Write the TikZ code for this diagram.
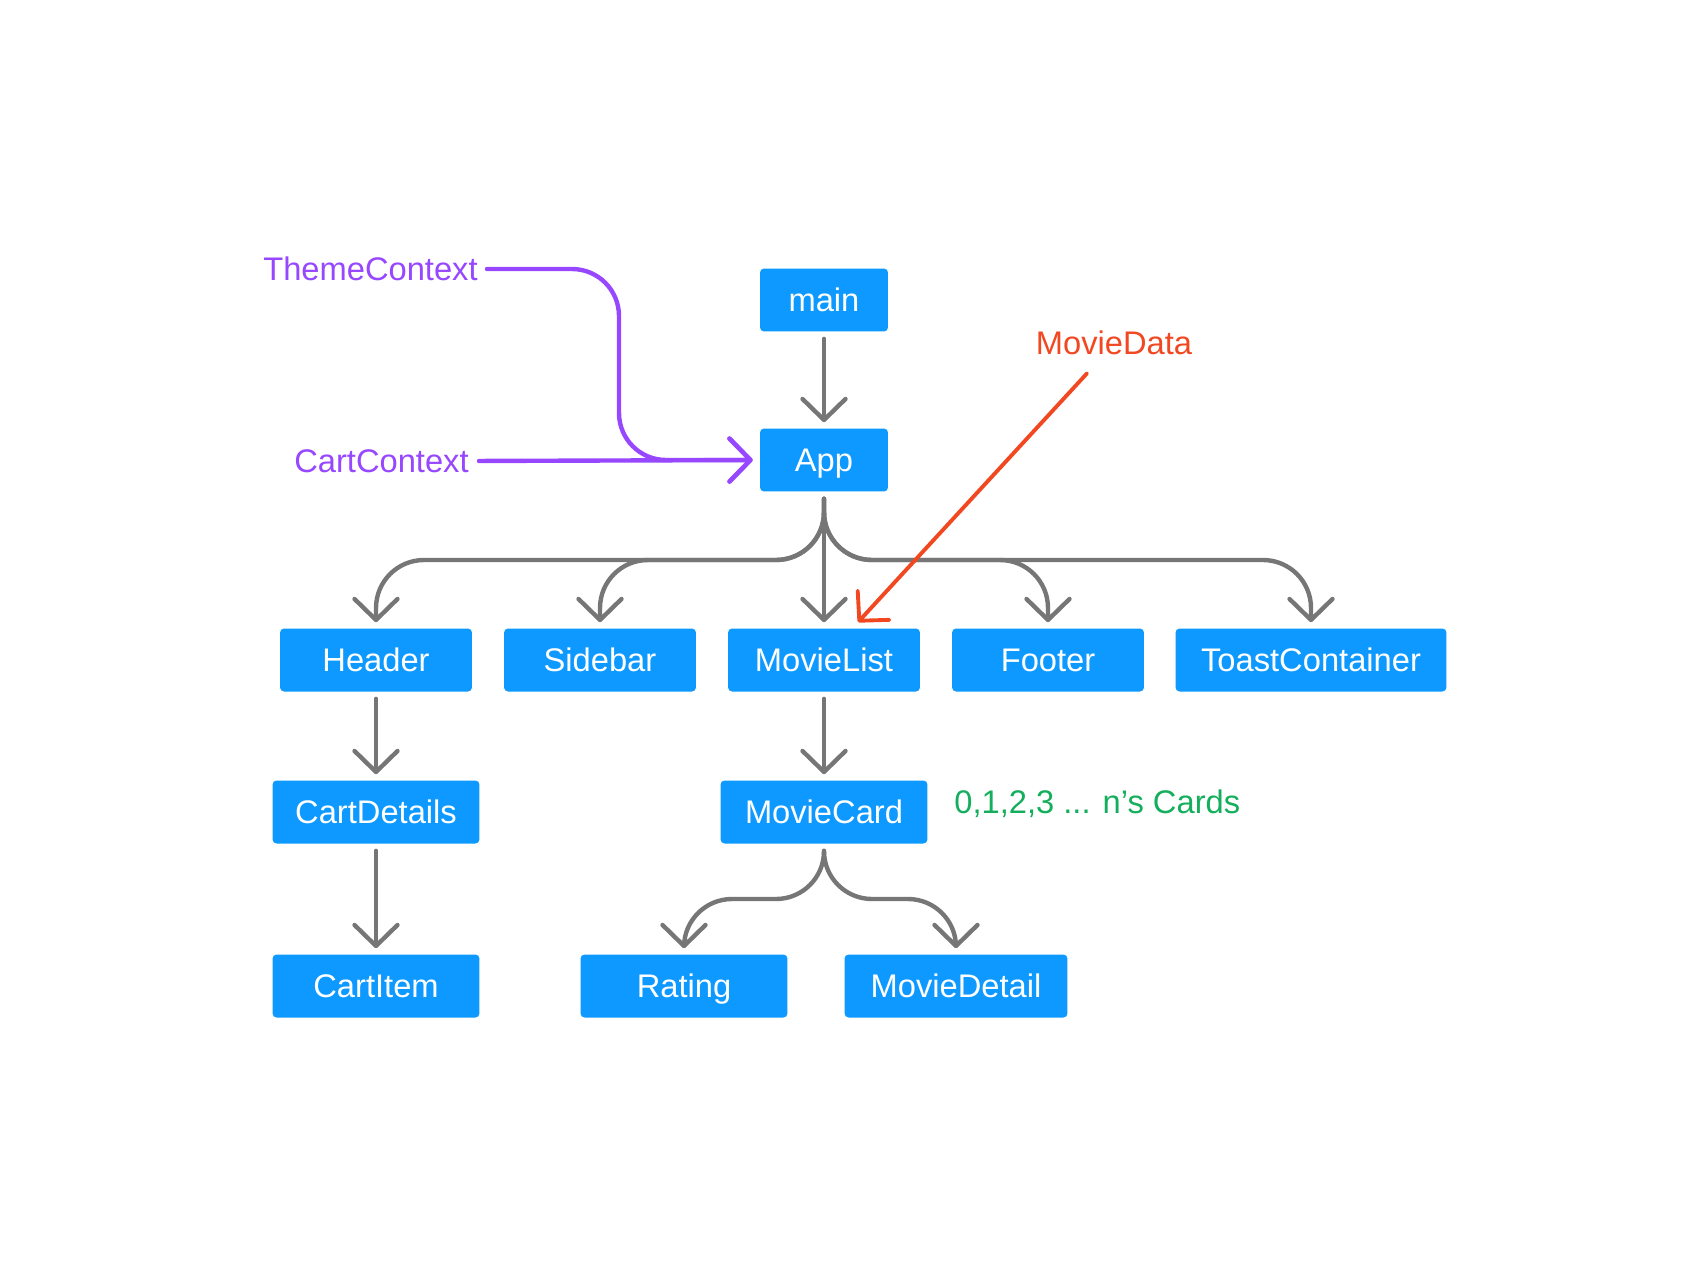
\documentclass[tikz,border=0pt]{standalone}
\usepackage{fontspec}
\setmainfont{Liberation Sans}
\usetikzlibrary{arrows.meta}
\definecolor{boxblue}{HTML}{0D99FF}
\definecolor{linkgrey}{HTML}{767676}
\definecolor{ctxpurple}{HTML}{9747FF}
\definecolor{datared}{HTML}{F24822}
\definecolor{notegreen}{HTML}{14AE5C}
\tikzset{box/.style={fill=boxblue, text=white, rounded corners=2.3pt, minimum height=1.26cm, inner sep=0pt, text height=17.3pt, text depth=4pt, font=\fontsize{18.6}{22}\selectfont}}
\tikzset{label/.style={inner sep=0pt, font=\fontsize{18.6}{22}\selectfont}}
\tikzset{barb/.tip={Straight Barb[length=0.42cm, width=0.86cm, round]}}
\tikzset{link/.style={draw=linkgrey, line width=2.5pt, line cap=round, rounded corners=0.96cm, -barb, shorten <=0.14cm, shorten >=0.12cm},
  ctx/.style={draw=ctxpurple, line width=2.5pt, line cap=round, rounded corners=0.94cm, -barb, shorten >=0.14cm},
  data/.style={draw=datared, line width=2.2pt, line cap=round, -barb}}

\begin{document}
\begin{tikzpicture}[x=0.02cm, y=-0.02cm]
  \useasboundingbox (0,0) rectangle (1704,1274);
  \node[box, minimum width=2.56cm] (main)           at ( 824, 300) {main};
  \node[box, minimum width=2.56cm] (App)            at ( 824, 460) {App};
  \node[box, minimum width=3.84cm] (Header)         at ( 376, 660) {Header};
  \node[box, minimum width=3.84cm] (Sidebar)        at ( 600, 660) {Sidebar};
  \node[box, minimum width=3.84cm] (MovieList)      at ( 824, 660) {MovieList};
  \node[box, minimum width=3.84cm] (Footer)         at (1048, 660) {Footer};
  \node[box, minimum width=5.42cm] (ToastContainer) at (1311, 660) {ToastContainer};
  \node[box, minimum width=4.14cm] (CartDetails)    at ( 376, 812) {CartDetails};
  \node[box, minimum width=4.14cm] (MovieCard)      at ( 824, 812) {MovieCard};
  \node[box, minimum width=4.14cm] (CartItem)       at ( 376, 986) {CartItem};
  \node[box, minimum width=4.14cm] (Rating)         at ( 684, 986) {Rating};
  \node[box, minimum width=4.46cm] (MovieDetail)    at ( 956, 986) {MovieDetail};
  \node[label, text=ctxpurple, anchor=east] (ThemeContext) at ( 478, 269) {ThemeContext};
  \node[label, text=ctxpurple, anchor=east] (CartContext)  at ( 469, 461) {CartContext};
  \node[label, text=datared] (MovieData) at (1114, 343) {MovieData};
  \node[label, text=notegreen, anchor=west] (Cards) at ( 954, 804) {0,1,2,3 ... n’s Cards};
  \draw[link] (main) -- (App);
  \draw[link] (App) -- (MovieList);
  \foreach \n in {Header,Sidebar,Footer,ToastContainer}
    \draw[link] (App.south) -- (824,560) -| (\n.north);
  \draw[link] (Header) -- (CartDetails);
  \draw[link] (CartDetails) -- (CartItem);
  \draw[link] (MovieList) -- (MovieCard);
  \foreach \n in {Rating,MovieDetail}
    \draw[link] (MovieCard.south) -- (824,899) -| (\n.north);
  \draw[ctx, shorten <=0.18cm] (ThemeContext.east) -- (619,269) -- (619,460) -- (App.west);
  \draw[ctx, shorten <=0.2cm] (CartContext.east) -- (App.west);
  \draw[data] ([xshift=-0.54cm, yshift=-0.36cm]MovieData.south) -- ([xshift=0.68cm, yshift=0.12cm]MovieList.north);
\end{tikzpicture}
\end{document}
